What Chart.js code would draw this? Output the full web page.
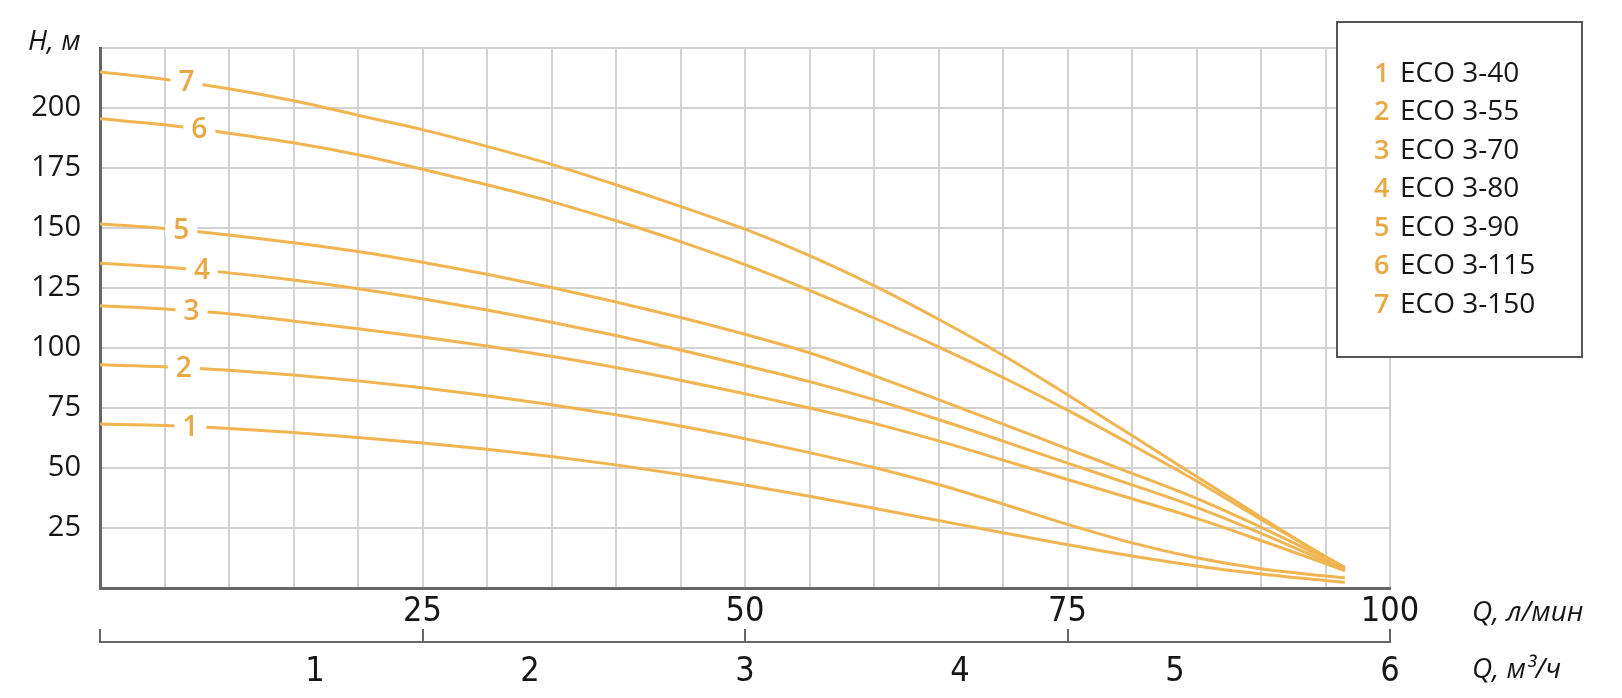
<!DOCTYPE html>
<html>
<head>
<meta charset="utf-8">
<script src="https://cdn.jsdelivr.net/npm/chart.js@4.4.0/dist/chart.umd.min.js"></script>
<style>
  html, body { margin: 0; padding: 0; background: #ffffff; }
  #wrap { position: relative; width: 1622px; height: 698px; }
</style>
</head>
<body>
<div id="wrap"><canvas id="c" width="1622" height="698"></canvas></div>
<script>
// ---- data ----
const flowLpm = [0, 5, 10, 15, 20, 25, 30, 35, 40, 45, 50, 55, 60, 65, 70, 75, 80, 85, 90, 95, 96.5];
const eco3_40  = [68.3, 67.7, 66.5, 64.8, 62.7, 60.4, 57.8, 54.8, 51.3, 47.3, 42.9, 38.2, 33.2, 28.1, 23, 18, 13.3, 9.2, 5.8, 3.1, 2.4];
const eco3_55  = [93, 92.2, 90.7, 88.7, 86.3, 83.4, 80.1, 76.4, 72.2, 67.5, 62.2, 56.4, 50.2, 43.1, 35, 26.5, 18.8, 12.6, 8, 5, 4.3];
const eco3_70  = [117.6, 116.3, 114.3, 111.2, 108, 104.6, 100.8, 96.6, 91.9, 86.6, 80.9, 75, 68.6, 61.3, 53.3, 45.2, 37.2, 29, 19.8, 10.2, 7.2];
const eco3_80  = [135.3, 133.7, 131.3, 128.3, 124.7, 120.5, 115.8, 110.7, 105.2, 99.2, 92.7, 86, 78.5, 70.2, 61.2, 52, 43, 33.6, 22.8, 11.2, 7.7];
const eco3_90  = [151.7, 149.8, 147.1, 143.9, 140.2, 135.7, 130.7, 125.2, 119.2, 112.7, 105.7, 98, 88.5, 78.5, 68.3, 58, 47.8, 37.3, 25.3, 12.3, 8];
const eco3_115 = [195.5, 193, 189.5, 185.5, 180.5, 174.5, 168, 161, 153, 144.3, 134.7, 124, 112.5, 100.5, 87.7, 74.1, 59.6, 44.6, 28.6, 13.1, 8.5];
const eco3_150 = [215, 212, 208, 203, 197, 191, 184, 176.5, 168, 159, 149.5, 138.5, 126, 112, 97, 80.5, 63.5, 46.5, 29.5, 13, 8.5];

const seriesNames = ['ECO 3-40', 'ECO 3-55', 'ECO 3-70', 'ECO 3-80', 'ECO 3-90', 'ECO 3-115', 'ECO 3-150'];
const seriesNumbers = ['1', '2', '3', '4', '5', '6', '7'];
const seriesValues = [eco3_40, eco3_55, eco3_70, eco3_80, eco3_90, eco3_115, eco3_150];
const curveLabelAt = [7, 6.5, 7.1, 7.9, 6.3, 7.7, 6.7];   // Q (l/min) where the number sits on each curve

const headTicks = [25, 50, 75, 100, 125, 150, 175, 200];
const lpmTicks = [25, 50, 75, 100];
const m3hTicks = [1, 2, 3, 4, 5, 6];

const yTitle = 'H, м';
const xTitleLpm = 'Q, л/мин';
const xTitleM3h = 'Q, м³/ч';

// ---- styles ----
const LINE = '#F0B450';
const NUM = '#E9A845';
const GRID = '#d2d2d2';
const AXIS = '#666666';
const TEXT = '#161616';
const SANS = '"Open Sans", "Noto Sans", sans-serif';
const NARROW = '"Liberation Sans Narrow", "DejaVu Sans Condensed", "Liberation Sans", sans-serif';

const datasets = seriesValues.map((vals, i) => ({
  label: seriesNames[i],
  data: flowLpm.map((q, k) => ({ x: q, y: vals[k] })),
  borderColor: LINE,
  borderWidth: 3,
  pointRadius: 0,
  fill: false,
  cubicInterpolationMode: 'monotone',
  xAxisID: 'x',
  yAxisID: 'y'
}));

function interp(xs, ys, q) {
  for (let k = 0; k < xs.length - 1; k++) {
    if (q >= xs[k] && q <= xs[k + 1]) {
      const t = (q - xs[k]) / (xs[k + 1] - xs[k]);
      return ys[k] + t * (ys[k + 1] - ys[k]);
    }
  }
  return ys[ys.length - 1];
}

const curveLabels = {
  id: 'curveLabels',
  afterDatasetsDraw(chart) {
    const ctx = chart.ctx;
    const xs = chart.scales.x, ys = chart.scales.y;
    ctx.save();
    ctx.font = '600 28px ' + SANS;
    ctx.textAlign = 'center';
    ctx.textBaseline = 'middle';
    seriesValues.forEach((vals, i) => {
      const q = curveLabelAt[i];
      const h = interp(flowLpm, vals, q);
      const px = xs.getPixelForValue(q);
      const py = ys.getPixelForValue(h);
      const w = ctx.measureText(seriesNumbers[i]).width;
      ctx.fillStyle = '#ffffff';
      ctx.fillRect(px - w / 2 - 8, py - 6, w + 16, 12);
      ctx.fillStyle = NUM;
      ctx.fillText(seriesNumbers[i], px, py + 1);
    });
    ctx.restore();
  }
};

const extras = {
  id: 'extras',
  afterDraw(chart) {
    const ctx = chart.ctx;
    const area = chart.chartArea;
    const x2 = chart.scales.x2, x3 = chart.scales.x3;
    ctx.save();
    // axis titles
    ctx.fillStyle = TEXT;
    ctx.font = 'italic 28px ' + SANS;
    ctx.textAlign = 'left';
    ctx.textBaseline = 'alphabetic';
    ctx.fillText(yTitle, 28, area.top + 2);
    ctx.textBaseline = 'middle';
    ctx.fillText(xTitleLpm, area.right + 82, x2.top - 29);
    ctx.fillText(xTitleM3h, area.right + 82, x3.top + 26);

    // legend box
    const bx = 1337, by = 22, bw = 245, bh = 335;
    ctx.fillStyle = '#ffffff';
    ctx.fillRect(bx, by, bw, bh);
    ctx.strokeStyle = '#555555';
    ctx.lineWidth = 2;
    ctx.strokeRect(bx, by, bw, bh);
    for (let i = 0; i < seriesNames.length; i++) {
      const cy = 74 + i * 38.5;
      ctx.textBaseline = 'middle';
      ctx.font = '600 27px ' + SANS;
      ctx.fillStyle = NUM;
      ctx.fillText(seriesNumbers[i], 1374, cy);
      ctx.font = '28px ' + SANS;
      ctx.fillStyle = TEXT;
      ctx.fillText(seriesNames[i], 1400, cy);
    }
    ctx.restore();
  }
};

new Chart(document.getElementById('c'), {
  type: 'line',
  data: { datasets },
  options: {
    responsive: false,
    animation: false,
    devicePixelRatio: 1,
    layout: { padding: { top: 48, right: 232, bottom: 0, left: 0 } },
    plugins: { legend: { display: false }, tooltip: { enabled: false }, title: { display: false } },
    scales: {
      x: {
        type: 'linear', position: 'bottom', weight: 0,
        min: 0, max: 100,
        ticks: { stepSize: 5, display: false },
        grid: { color: GRID, lineWidth: 2, drawTicks: false },
        border: { color: AXIS, width: 3 },
        afterFit(s) { s.height = 54; }
      },
      x2: {
        type: 'linear', position: 'bottom', weight: 1,
        min: 0, max: 100,
        afterBuildTicks(s) { s.ticks = [0].concat(lpmTicks).map(v => ({ value: v })); },
        ticks: {
          font: { family: NARROW, size: 34 }, color: TEXT, padding: 9, mirror: true,
          maxRotation: 0, autoSkip: false,
          callback: v => (lpmTicks.includes(v) ? String(v) : '')
        },
        grid: { display: true, drawOnChartArea: false, drawTicks: true, tickLength: -13, color: AXIS, lineWidth: 2 },
        border: { display: true, color: AXIS, width: 2 },
        afterFit(s) { s.height = 2; }
      },
      x3: {
        type: 'linear', position: 'bottom', weight: 2,
        min: 0, max: 6,
        afterBuildTicks(s) { s.ticks = m3hTicks.map(v => ({ value: v })); },
        ticks: {
          font: { family: NARROW, size: 34 }, color: TEXT, padding: 8,
          maxRotation: 0, autoSkip: false,
          callback: v => String(v)
        },
        grid: { display: false, drawTicks: false },
        border: { display: false },
        afterFit(s) { s.height = 54; }
      },
      y: {
        type: 'linear', position: 'left',
        min: 0, max: 225,
        ticks: {
          stepSize: 25, font: { family: SANS, size: 29 }, color: TEXT, padding: 19,
          callback: v => (headTicks.includes(v) ? String(v) : '')
        },
        grid: { color: GRID, lineWidth: 2, drawTicks: false },
        border: { color: AXIS, width: 3 },
        afterFit(s) { s.width = 100; }
      }
    }
  },
  plugins: [curveLabels, extras]
});
</script>
</body>
</html>
